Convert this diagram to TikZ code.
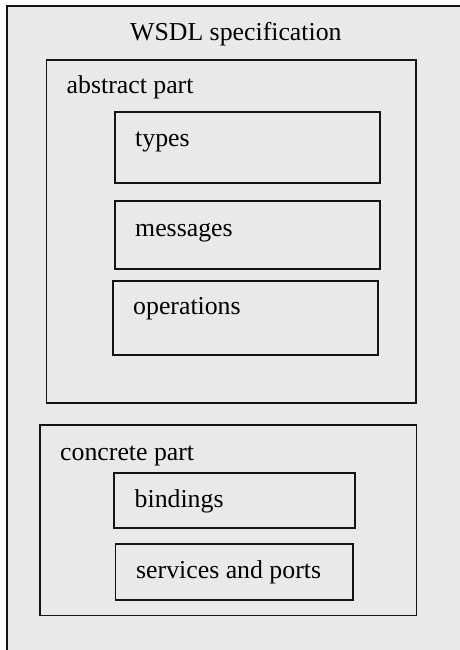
\documentclass[tikz,border=0pt]{standalone}
\usepackage{fontspec}
\setmainfont{Liberation Serif}
\definecolor{panelgray}{RGB}{233,233,233}
\definecolor{edge}{RGB}{20,20,20}
\begin{document}
\begin{tikzpicture}[x=1pt,y=-1pt,
  frame/.style={draw=edge, line width=1.6pt, fill=panelgray},
  lbl/.style={anchor=base west, inner sep=0pt, font=\fontsize{25.8}{30}\selectfont}]
\useasboundingbox (0,0) rectangle (460,650);
\clip (0,0) rectangle (460,650);
\fill[white] (0,0) rectangle (460,650);
% outer frame
\draw[frame, line width=2pt] (7,6) rectangle (475,665);
\node[lbl] (title) at (130,40.5) {WSDL specification};
% abstract part
\draw[frame] (46.5,60) rectangle (416,403);
\node[lbl] (abs) at (66.5,93.5) {abstract part};
\draw[frame] (115,112) rectangle (380,183);
\node[lbl] (types) at (135,146.5) {types};
\draw[frame] (115,201) rectangle (380,269);
\node[lbl] (msgs) at (135,236) {messages};
\draw[frame] (113,281) rectangle (378,355);
\node[lbl] (ops) at (133,314) {operations};
% concrete part
\draw[frame] (40,425) rectangle (416.5,615.5);
\node[lbl] (conc) at (60,460) {concrete part};
\draw[frame] (114,473) rectangle (355,528);
\node[lbl] (bind) at (134.5,507) {bindings};
\draw[frame] (115.5,544) rectangle (353,600);
\node[lbl] (svc) at (136,578) {services and ports};
\end{tikzpicture}
\end{document}
